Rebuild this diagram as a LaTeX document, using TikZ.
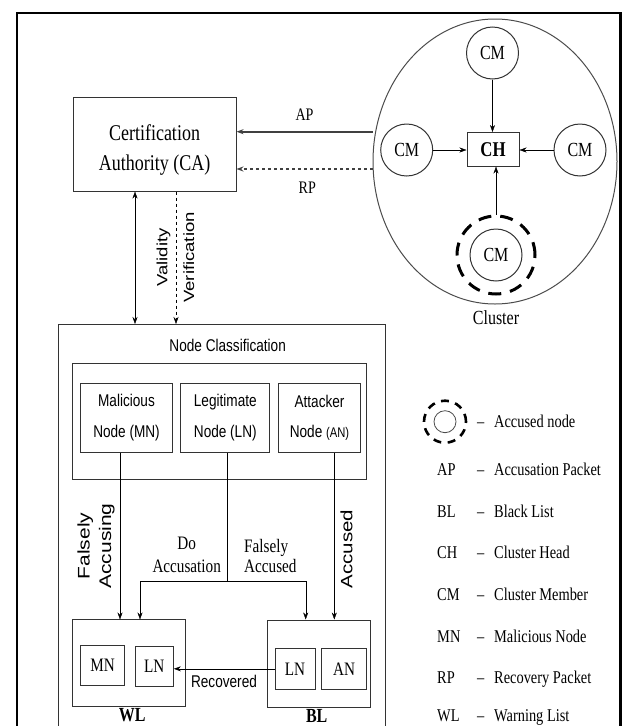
\documentclass[tikz,border=0pt]{standalone}
\usepackage{fontspec}
\setmainfont{Liberation Serif}[FakeStretch=0.8]
\setsansfont{Liberation Sans}[FakeStretch=0.8]
\newfontfamily\rotsans{Liberation Sans}
\usetikzlibrary{arrows.meta,shapes.geometric}

\tikzset{
  caixa/.style={draw=black!80, line width=1pt, inner sep=0pt},
  membro/.style={circle, draw=black!80, line width=1pt, minimum size=52pt, inner sep=0pt,
    font=\fontsize{20}{24}\selectfont},
  tipo/.style={caixa, minimum width=91.6pt, minimum height=69pt, align=center,
    font=\sffamily\fontsize{17}{30.5}\selectfont},
  sigla/.style={caixa, font=\fontsize{19}{22}\selectfont},
  giro/.style={rotate=90, yscale=0.8, inner sep=0pt, align=center,
    font=\rotsans\fontsize{18.5}{27}\selectfont},
  leg/.style={anchor=base west, inner sep=0pt, font=\fontsize{18}{22}\selectfont},
}

\begin{document}
\begin{tikzpicture}[x=1pt, y=-1pt, >={Stealth[length=7pt,width=5pt]}]
  \clip (0,0) rectangle (622,726);
  % moldura externa
  \draw[line width=2.2pt] (17,740) -- (17,13) -- (620.5,13) -- (620.5,740);

  % autoridade certificadora
  \node[caixa, minimum width=163pt, minimum height=93.5pt] (CA) at (154.5,144.3) {};
  \node[align=center, inner sep=0pt, font=\fontsize{22.5}{30.5}\selectfont] (tCA) at (154.5,150) {Certification\\Authority (CA)};

  % cluster: CH no meio, membros em volta
  \node[ellipse, draw=black!70, line width=1pt, minimum width=244pt, minimum height=285pt] (cl) at (495,161.5) {};
  \node[caixa, minimum width=52pt, minimum height=33.5pt,
        font=\bfseries\fontsize{21}{24}\selectfont] (CH) at (493,149.3) {CH};
  \node[membro] (CMt) at (492.5,53) {CM};
  \node[membro] (CMl) at (406.7,150) {CM};
  \node[membro] (CMr) at (580,150) {CM};
  \node[membro] (CMb) at (496,255) {CM};
  \node[circle, draw, line width=3pt, dash pattern=on 13pt off 9pt, minimum size=78pt] (acc) at (496,255) {};
  \draw[->] (CMt.south) -- (CMt.south |- CH.north);
  \draw[->] (CMl.east) -- (CMl.east -| CH.west);
  \draw[->] (CMr.west) -- (CMr.west -| CH.east);
  \draw[->] (acc.north) -- (acc.north |- CH.south);
  \node[font=\fontsize{20}{24}\selectfont] (tCl) at (496,318) {Cluster};

  % pacotes AP e RP
  \coordinate (yAP) at (0,131.7);
  \coordinate (yRP) at (0,169);
  \draw[->, line width=1.6pt, black!75] (cl.west |- yAP) -- (CA.east |- yAP)
    node[pos=0.5, yshift=16.7pt, black, font=\fontsize{17.6}{20}\selectfont] (lAP) {AP};
  \draw[->, dashed, line width=1.3pt, black!75] (cl.west |- yRP) -- (CA.east |- yRP)
    node[pos=0.48, yshift=-18.7pt, black, font=\fontsize{17.6}{20}\selectfont] (lRP) {RP};

  % bloco de classificação
  \node[caixa, anchor=north west, minimum width=327pt, minimum height=440pt] (NC) at (58,324) {};
  \node[font=\sffamily\fontsize{17}{20}\selectfont] (tNC) at (227.7,345) {Node Classification};
  \node[caixa, minimum width=294.4pt, minimum height=115.7pt] (grp) at (219.5,421.2) {};
  \node[tipo] (MN) at (126.5,417.8) {Malicious\\Node (MN)};
  \node[tipo, minimum width=89.3pt] (LN) at (225.3,417.8) {Legitimate\\Node (LN)};
  \node[tipo, minimum width=82.4pt] (AN) at (319.5,417.8) {Attacker\\Node {\fontsize{14}{30.5}\selectfont(AN)}};

  % validade e verificação entre CA e classificação
  \coordinate (xV) at (135,0);
  \coordinate (xD) at (176,0);
  \draw[<->] (CA.south -| xV) -- (NC.north -| xV);
  \draw[->, dashed] (CA.south -| xD) -- (NC.north -| xD);
  \node[giro] (tVal) at (163.5,257.5) {Validity};
  \node[giro] (tVer) at (188.8,257.5) {Verification};

  % listas WL e BL
  \node[caixa, minimum width=113.4pt, minimum height=86.7pt] (WL) at (129,663.3) {};
  \node[sigla, minimum width=43.6pt, minimum height=39.8pt] (wMN) at (102.5,665.6) {MN};
  \node[sigla, minimum width=38.3pt, minimum height=40pt] (wLN) at (154.2,666) {LN};
  \node[caixa, minimum width=103.3pt, minimum height=87pt] (BL) at (319.3,663.5) {};
  \node[sigla, minimum width=40pt, minimum height=41pt] (bLN) at (295,668.8) {LN};
  \node[sigla, minimum width=45pt, minimum height=41pt] (bAN) at (344.2,668.8) {AN};
  \node[inner sep=0pt, font=\bfseries\fontsize{20}{24}\selectfont] (tWL) at (132.3,715.5) {WL};
  \node[inner sep=0pt, font=\bfseries\fontsize{20}{24}\selectfont] (tBL) at (316.7,715.5) {BL};

  % ligações da classificação às listas
  \coordinate (xMN) at (120,0);
  \coordinate (xAN) at (334.3,0);
  \coordinate (xW) at (140,0);
  \coordinate (xB) at (305.7,0);
  \coordinate (bif) at (227.3,581);
  \draw[->] (MN.south -| xMN) -- (WL.north -| xMN);
  \draw (LN.south -| bif) -- (bif);
  \draw[->] (bif) -| (WL.north -| xW);
  \draw[->] (bif) -| (BL.north -| xB);
  \draw[->] (AN.south -| xAN) -- (BL.north -| xAN);
  \draw[->] (bLN.west) -- (bLN.west -| wLN.east);

  % rótulos das ligações
  \node[giro, font=\rotsans\fontsize{21}{27}\selectfont] (tFA) at (96,546) {Falsely\\Accusing};
  \node[giro, font=\rotsans\fontsize{20.5}{24}\selectfont] (tAc) at (346.5,549) {Accused};
  \node[align=center, font=\fontsize{19}{23}\selectfont] (tDo) at (186.7,554.5) {Do\\Accusation};
  \node[align=left, anchor=west, inner sep=0pt, font=\fontsize{19}{20}\selectfont] (tFd) at (244,556) {Falsely\\Accused};
  \node[font=\sffamily\fontsize{17}{20}\selectfont] (tRec) at (224,681) {Recovered};

  % legenda
  \node[circle, draw, line width=2.6pt, dash pattern=on 8pt off 6.5pt, minimum size=42pt] (lacc) at (445,421.7) {};
  \node[circle, draw=black!70, line width=0.8pt, minimum size=22pt] (lacci) at (445,421.7) {};
  \node[leg] (gAcc) at (477,427.7) {\makebox[17pt][l]{--}Accused node};
  \node[leg] (gAP) at (437,475.3) {\makebox[40pt][l]{AP}\makebox[17pt][l]{--}Accusation Packet};
  \node[leg] (gBL) at (437,517) {\makebox[40pt][l]{BL}\makebox[17pt][l]{--}Black List};
  \node[leg] (gCH) at (437,558.7) {\makebox[40pt][l]{CH}\makebox[17pt][l]{--}Cluster Head};
  \node[leg] (gCM) at (437,600.3) {\makebox[40pt][l]{CM}\makebox[17pt][l]{--}Cluster Member};
  \node[leg] (gMN) at (437,642.7) {\makebox[40pt][l]{MN}\makebox[17pt][l]{--}Malicious Node};
  \node[leg] (gRP) at (437,683.7) {\makebox[40pt][l]{RP}\makebox[17pt][l]{--}Recovery Packet};
  \node[leg] (gWL) at (437,721.5) {\makebox[40pt][l]{WL}\makebox[17pt][l]{--}Warning List};
\end{tikzpicture}
\end{document}
